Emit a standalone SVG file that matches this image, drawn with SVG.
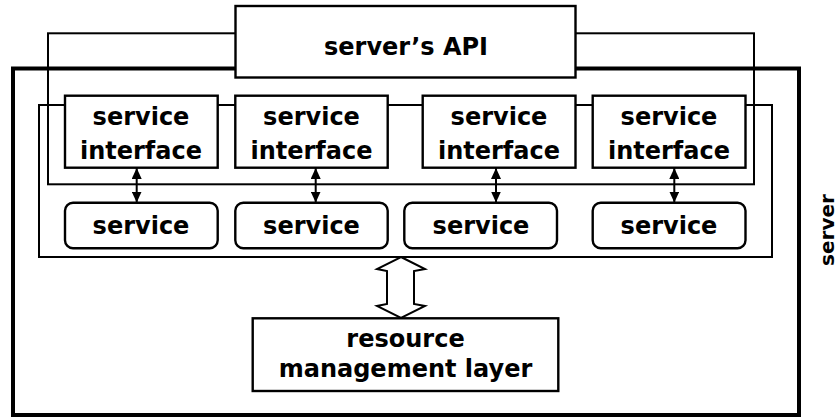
<svg xmlns="http://www.w3.org/2000/svg" width="839" height="417" viewBox="0 0 839 417">
<style>
  .frame{fill:none;stroke:#000;stroke-width:2}
  .box{fill:#fff;stroke:#000;stroke-width:2.4}
  .t{font-family:"DejaVu Sans","Liberation Sans",sans-serif;font-weight:bold;font-size:24px;fill:#000;text-anchor:middle}
  .conn{stroke:#000;stroke-width:2;fill:none}
</style>
<defs>
  <marker id="ah" viewBox="0 0 11 10" refX="11" refY="5" markerWidth="11" markerHeight="10" markerUnits="userSpaceOnUse" orient="auto-start-reverse">
    <path d="M0,0 L11,5 L0,10 z" fill="#000"/>
  </marker>
</defs>
<rect width="839" height="417" fill="#fff"/>
<g id="server">
  <rect x="13" y="68.5" width="786" height="346.5" fill="none" stroke="#000" stroke-width="4"/>
  <text class="t" transform="translate(834,230) rotate(-90)" style="font-size:20px">server</text>
</g>
<g id="api-frame">
  <rect class="frame" x="48" y="33.3" width="706" height="151"/>
</g>
<g id="services-frame">
  <rect class="frame" x="39" y="105" width="733" height="152"/>
</g>
<g id="api">
  <rect class="box" x="235.5" y="6" width="340" height="71.5"/>
  <text class="t" x="406" y="55">server’s API</text>
</g>
<g id="if1">
  <rect class="box" x="65" y="95.7" width="152.7" height="72"/>
  <text class="t" x="141" y="125">service</text>
  <text class="t" x="141" y="159">interface</text>
</g>
<g id="if2">
  <rect class="box" x="235.3" y="95.7" width="152.4" height="72"/>
  <text class="t" x="311.5" y="125">service</text>
  <text class="t" x="311.5" y="159">interface</text>
</g>
<g id="if3">
  <rect class="box" x="422.7" y="95.7" width="152.8" height="72"/>
  <text class="t" x="499" y="125">service</text>
  <text class="t" x="499" y="159">interface</text>
</g>
<g id="if4">
  <rect class="box" x="592.7" y="95.7" width="152.8" height="72"/>
  <text class="t" x="669" y="125">service</text>
  <text class="t" x="669" y="159">interface</text>
</g>
<g id="svc1">
  <rect class="box" x="65" y="202.7" width="152.7" height="45.6" rx="8"/>
  <text class="t" x="141" y="234">service</text>
</g>
<g id="svc2">
  <rect class="box" x="235.3" y="202.7" width="152.4" height="45.6" rx="8"/>
  <text class="t" x="311.5" y="234">service</text>
</g>
<g id="svc3">
  <rect class="box" x="404.3" y="202.7" width="152.7" height="45.6" rx="8"/>
  <text class="t" x="481" y="234">service</text>
</g>
<g id="svc4">
  <rect class="box" x="592.7" y="202.7" width="152.8" height="45.6" rx="8"/>
  <text class="t" x="669" y="234">service</text>
</g>
<g id="rml">
  <rect class="box" x="252.7" y="318.3" width="305.6" height="72.7"/>
  <text class="t" x="405.5" y="347">resource</text>
  <text class="t" x="405.5" y="377">management layer</text>
</g>
<g id="connectors">
  <line class="conn" x1="136.7" y1="168" x2="136.7" y2="202.5" marker-start="url(#ah)" marker-end="url(#ah)"/>
  <line class="conn" x1="315.7" y1="168" x2="315.7" y2="202.5" marker-start="url(#ah)" marker-end="url(#ah)"/>
  <line class="conn" x1="496" y1="168" x2="496" y2="202.5" marker-start="url(#ah)" marker-end="url(#ah)"/>
  <line class="conn" x1="674.3" y1="168" x2="674.3" y2="202.5" marker-start="url(#ah)" marker-end="url(#ah)"/>
  <polygon points="401,257 425,269 414,271 414,304 425,306 401,318 377,306 387,304 387,271 377,269" fill="#fff" stroke="#000" stroke-width="2" stroke-linejoin="miter"/>
</g>
</svg>
